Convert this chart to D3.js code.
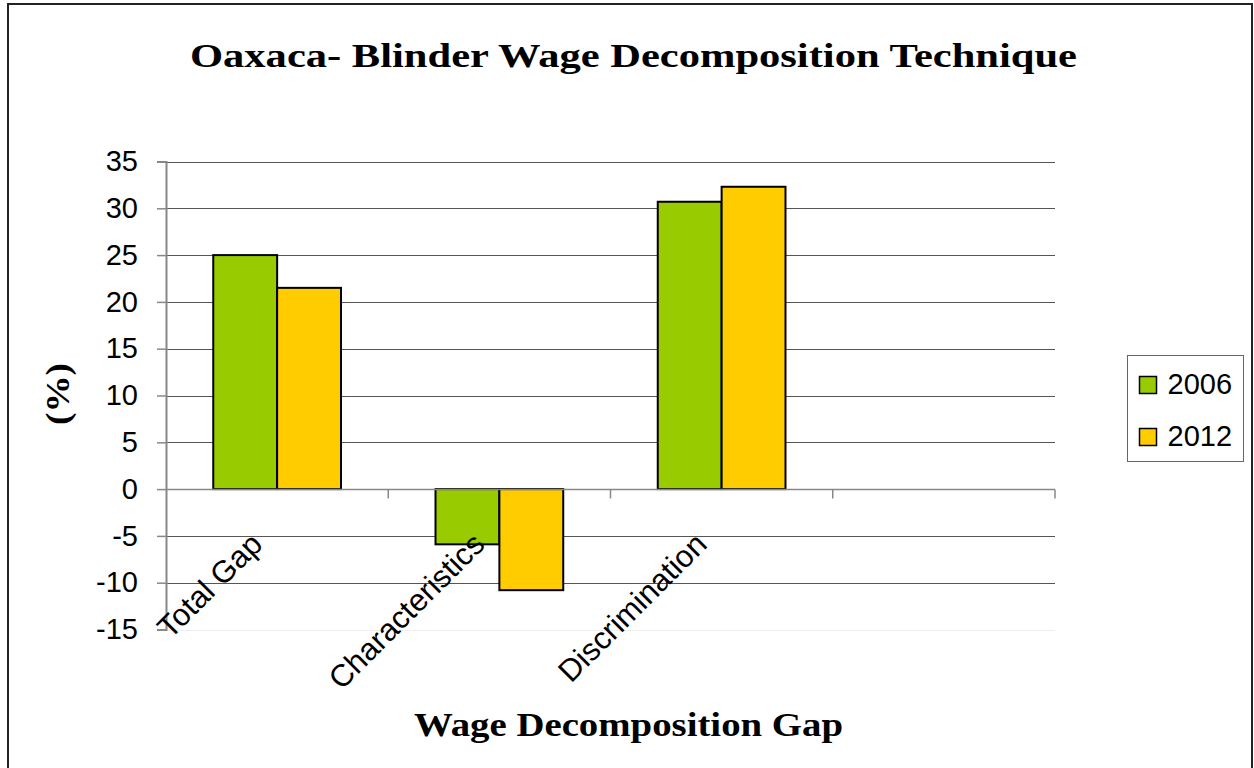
<!DOCTYPE html>
<html>
<head>
<meta charset="utf-8">
<script src="https://cdn.jsdelivr.net/npm/d3@7"></script>
<style>
  body { margin: 0; background: #fff; }
</style>
</head>
<body>
<div id="chart"></div>
<script>
// data
const categories = ["Total Gap", "Characteristics", "Discrimination", ""];
const seriesNames = ["2006", "2012"];
const values2006 = [25.0, -5.9, 30.7];
const values2012 = [21.5, -10.8, 32.3];
const yTicks = [-15, -10, -5, 0, 5, 10, 15, 20, 25, 30, 35];
const colors = ["#99cc00", "#ffcc00"];

const width = 1254, height = 768;
const sans = "Arial, 'Liberation Sans', sans-serif";
const serif = "'Times New Roman', 'Liberation Serif', serif";

const svg = d3.select("#chart").append("svg")
    .attr("width", width)
    .attr("height", height);

// outer frame (bottom edge runs off the picture)
svg.append("rect")
    .attr("x", 8).attr("y", 4)
    .attr("width", 1244).attr("height", 770)
    .attr("fill", "#fff")
    .attr("stroke", "#222")
    .attr("stroke-width", 2);

const plotLeft = 166, plotRight = 1055, plotTop = 161.5, plotBottom = 629.5;

const x = d3.scaleBand()
    .domain(categories)
    .range([plotLeft, plotRight]);

const xInner = d3.scaleBand()
    .domain(seriesNames)
    .range([0, x.bandwidth()])
    .paddingOuter(0.74)
    .paddingInner(0);

const y = d3.scaleLinear()
    .domain([-15, 35])
    .range([plotBottom, plotTop]);

// gridlines
svg.append("g")
    .selectAll("line")
    .data(yTicks)
    .join("line")
    .attr("x1", plotLeft).attr("x2", plotRight)
    .attr("y1", d => Math.round(y(d)) + 0.5)
    .attr("y2", d => Math.round(y(d)) + 0.5)
    .attr("stroke", d => d === -15 ? "#eee" : "#555")
    .attr("stroke-width", 1);

// y axis
const yAxis = svg.append("g")
    .attr("transform", `translate(${plotLeft},0)`)
    .call(d3.axisLeft(y).tickValues(yTicks).tickFormat(d => String(d)).tickSize(9).tickPadding(19));
yAxis.select(".domain").attr("stroke", "#888").attr("stroke-width", 2);
yAxis.selectAll(".tick line").attr("stroke", "#888").attr("stroke-width", 1.5);
yAxis.selectAll("text")
    .attr("font-family", sans)
    .attr("font-size", 29)
    .attr("fill", "#000");

// bars
const rows = categories.slice(0, 3).map((c, i) => ({
    cat: c,
    vals: [values2006[i], values2012[i]]
}));

const groups = svg.append("g")
    .selectAll("g")
    .data(rows)
    .join("g")
    .attr("transform", d => `translate(${x(d.cat)},0)`);

groups.selectAll("rect")
    .data(d => d.vals.map((v, j) => ({ name: seriesNames[j], v: v, j: j })))
    .join("rect")
    .attr("x", d => xInner(d.name))
    .attr("width", xInner.bandwidth())
    .attr("y", d => y(Math.max(0, d.v)))
    .attr("height", d => Math.abs(y(d.v) - y(0)))
    .attr("fill", d => colors[d.j])
    .attr("stroke", "#000")
    .attr("stroke-width", 2);

// zero axis
const xAxis = svg.append("g")
    .attr("transform", `translate(0,${Math.round(y(0)) + 0.5})`);
xAxis.append("line")
    .attr("x1", plotLeft).attr("x2", plotRight)
    .attr("stroke", "#888")
    .attr("stroke-width", 1.5);
xAxis.selectAll(".tk")
    .data(categories)
    .join("line")
    .attr("class", "tk")
    .attr("x1", d => x(d) + x.bandwidth())
    .attr("x2", d => x(d) + x.bandwidth())
    .attr("y1", 0).attr("y2", 9)
    .attr("stroke", "#888")
    .attr("stroke-width", 1.5);

// category labels, rotated
svg.append("g")
    .selectAll("text")
    .data(categories.filter(d => d))
    .join("text")
    .attr("transform", d => `translate(${x(d) + x.bandwidth() / 2 - 13},${y(0) + 57}) rotate(-45)`)
    .attr("text-anchor", "end")
    .attr("font-family", sans)
    .attr("font-size", 31)
    .text(d => d);

// title
svg.append("text")
    .attr("x", 190).attr("y", 67)
    .attr("font-family", serif)
    .attr("font-weight", "bold")
    .attr("font-size", 33)
    .attr("textLength", 887)
    .attr("lengthAdjust", "spacingAndGlyphs")
    .text("Oaxaca- Blinder Wage Decomposition Technique");

// axis titles
svg.append("text")
    .attr("x", 414).attr("y", 736)
    .attr("font-family", serif)
    .attr("font-weight", "bold")
    .attr("font-size", 33)
    .attr("textLength", 429)
    .attr("lengthAdjust", "spacingAndGlyphs")
    .text("Wage Decomposition Gap");

svg.append("text")
    .attr("transform", "translate(69,425) rotate(-90)")
    .attr("font-family", serif)
    .attr("font-weight", "bold")
    .attr("font-size", 33)
    .attr("textLength", 62)
    .attr("lengthAdjust", "spacingAndGlyphs")
    .text("(%)");

// legend
const legend = svg.append("g");
legend.append("rect")
    .attr("x", 1127.5).attr("y", 355.5)
    .attr("width", 116).attr("height", 106)
    .attr("fill", "#fff")
    .attr("stroke", "#666");

const items = legend.selectAll("g")
    .data(seriesNames)
    .join("g")
    .attr("transform", (d, i) => `translate(1139.5,${376.5 + i * 52})`);
items.append("rect")
    .attr("width", 17).attr("height", 17)
    .attr("fill", (d, i) => colors[i])
    .attr("stroke", "#000")
    .attr("stroke-width", 1.5);
items.append("text")
    .attr("x", 28).attr("y", 17)
    .attr("font-family", sans)
    .attr("font-size", 29)
    .text(d => d);
</script>
</body>
</html>
